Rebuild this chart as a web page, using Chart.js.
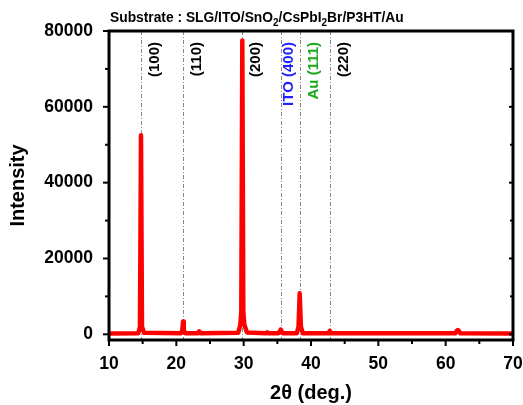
<!DOCTYPE html>
<html>
<head>
<meta charset="utf-8">
<script src="https://cdn.jsdelivr.net/npm/chart.js@4/dist/chart.umd.min.js"></script>
<style>
  html, body { margin: 0; padding: 0; background: #fff; }
  #wrap { width: 523px; height: 405px; }
</style>
</head>
<body>
<div id="wrap"><canvas id="xrd" width="523" height="405"></canvas></div>
<script>
// ===== Data =====
const twoTheta = [
  10, 14.35,
  14.6, 14.75, 14.9, 15.2,
  20.7, 20.9, 21.0, 21.1, 21.3,
  23.2, 23.4, 23.6,
  29.2, 29.5, 29.65, 29.8, 29.95, 30.1, 30.5,
  33.3, 33.5, 33.7,
  35.2, 35.4, 35.5, 35.6, 35.8,
  37.9, 38.15, 38.32, 38.5, 38.8,
  42.6, 42.8, 43.0,
  61.4, 61.65, 61.8, 61.95, 62.2,
  70
];
const intensity = [
  200, 300,
  2000, 52500, 2000, 400,
  300, 1200, 3400, 1200, 300,
  250, 800, 250,
  400, 2500, 6000, 77500, 6000, 2500, 500,
  250, 500, 250,
  300, 900, 1300, 900, 300,
  300, 2000, 10800, 2000, 250,
  250, 900, 250,
  250, 900, 1100, 900, 250,
  200
];

const peakLabels = ["(100)", "(110)", "(200)", "ITO (400)", "Au (111)", "(220)"];
const peakPositions = [14.75, 21.0, 29.8, 35.5, 38.35, 42.8];
const peakColors = ["#000", "#000", "#000", "#1f1fff", "#1aa81a", "#000"];

const xTicks = [10, 20, 30, 40, 50, 60, 70];
const xMinor = [15, 25, 35, 45, 55, 65];
const yTicks = [0, 20000, 40000, 60000, 80000];
const yMinor = [10000, 30000, 50000, 70000];

const points = twoTheta.map((x, i) => ({ x: x, y: intensity[i] }));

// ===== Plugin: frame, ticks, reference lines, labels, title =====
const decor = {
  id: "decor",
  beforeDatasetsDraw(chart) {
    const { ctx, chartArea: a, scales: { x } } = chart;
    ctx.save();
    ctx.strokeStyle = "#888";
    ctx.lineWidth = 1;
    ctx.setLineDash([4, 2, 1, 2]);
    peakPositions.forEach(p => {
      const px = Math.round(x.getPixelForValue(p)) + 0.5;
      ctx.beginPath();
      ctx.moveTo(px, a.top);
      ctx.lineTo(px, a.bottom);
      ctx.stroke();
    });
    ctx.restore();
  },
  afterDraw(chart) {
    const { ctx, chartArea: a, scales: { x, y } } = chart;
    ctx.save();
    // frame
    ctx.strokeStyle = "#000";
    ctx.lineWidth = 3;
    ctx.strokeRect(a.left, a.top, a.right - a.left, a.bottom - a.top);

    // ticks
    ctx.lineWidth = 2;
    const tick = (x1, y1, x2, y2) => { ctx.beginPath(); ctx.moveTo(x1, y1); ctx.lineTo(x2, y2); ctx.stroke(); };
    xTicks.forEach(v => { const px = x.getPixelForValue(v); tick(px, a.bottom, px, a.bottom + 6); });
    xMinor.forEach(v => { const px = x.getPixelForValue(v); tick(px, a.bottom, px, a.bottom + 4); });
    yTicks.forEach(v => {
      const py = y.getPixelForValue(v);
      tick(a.left - 6, py, a.left, py);
      tick(a.right, py, a.right - 4, py);
    });
    yMinor.forEach(v => {
      const py = y.getPixelForValue(v);
      tick(a.left - 4, py, a.left, py);
      tick(a.right, py, a.right - 3, py);
    });

    // peak labels (rotated)
    ctx.font = "bold 15px 'Liberation Sans', Arial, sans-serif";
    ctx.textAlign = "right";
    ctx.textBaseline = "middle";
    peakPositions.forEach((p, i) => {
      const px = x.getPixelForValue(p) + (i === 3 ? 8 : 14);
      ctx.save();
      ctx.translate(px, a.top + 11);
      ctx.rotate(-Math.PI / 2);
      ctx.fillStyle = peakColors[i];
      ctx.fillText(peakLabels[i], 0, 0);
      ctx.restore();
    });

    // title with subscripts
    const parts = [
      ["Substrate : SLG/ITO/SnO", false], ["2", true], ["/CsPbI", false],
      ["2", true], ["Br/P3HT/Au", false]
    ];
    ctx.fillStyle = "#000";
    ctx.textAlign = "left";
    ctx.textBaseline = "alphabetic";
    let tx = 110;
    parts.forEach(([t, sub]) => {
      ctx.font = sub ? "bold 10px 'Liberation Sans', Arial, sans-serif"
                     : "bold 13.8px 'Liberation Sans', Arial, sans-serif";
      ctx.fillText(t, tx, sub ? 26 : 22);
      tx += ctx.measureText(t).width;
    });
    ctx.restore();
  }
};

const tickFont = { family: "'Liberation Sans', Arial, sans-serif", size: 17.5, weight: "bold" };
const titleFont = { family: "'Liberation Sans', Arial, sans-serif", size: 20, weight: "bold" };

new Chart(document.getElementById("xrd"), {
  type: "line",
  data: {
    datasets: [{
      data: points,
      borderColor: "#ff0000",
      borderWidth: 4.5,
      borderJoinStyle: "round",
      borderCapStyle: "round",
      pointRadius: 0,
      tension: 0,
      fill: false
    }]
  },
  options: {
    responsive: false,
    animation: false,
    layout: { padding: { top: 31, right: 10, left: 0, bottom: 0 } },
    plugins: { legend: { display: false }, tooltip: { enabled: false } },
    scales: {
      x: {
        type: "linear",
        min: 10, max: 70,
        afterBuildTicks: s => { s.ticks = xTicks.map(v => ({ value: v })); },
        afterFit: s => { s.height = 65; s.paddingLeft = 0; s.paddingRight = 0; },
        grid: { display: false },
        border: { display: false },
        ticks: { font: tickFont, color: "#000", padding: 6, maxRotation: 0, callback: v => String(v) },
        title: { display: true, text: "2θ (deg.)", font: titleFont, color: "#000", padding: 0 }
      },
      y: {
        type: "linear",
        min: -1500, max: 80000,
        afterBuildTicks: s => { s.ticks = yTicks.map(v => ({ value: v })); },
        afterFit: s => { s.width = 109; s.paddingTop = 0; s.paddingBottom = 0; },
        grid: { display: false },
        border: { display: false },
        ticks: { font: tickFont, color: "#000", padding: 8, callback: v => String(v) },
        title: { display: true, text: "Intensity", font: titleFont, color: "#000", padding: 6 }
      }
    }
  },
  plugins: [decor]
});
</script>
</body>
</html>
